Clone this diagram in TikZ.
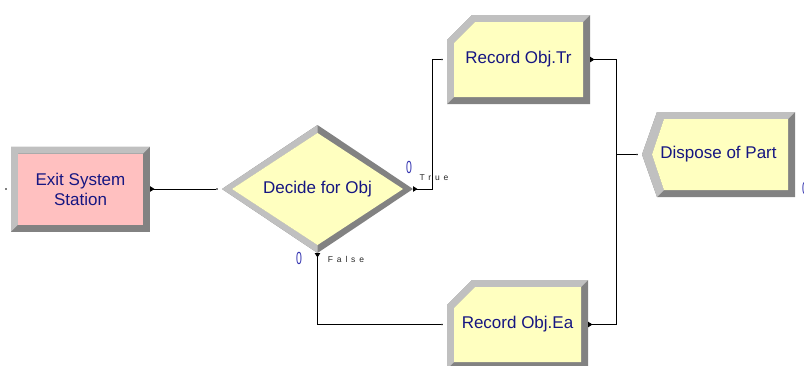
\documentclass[tikz,border=0pt]{standalone}
\usepackage{fontspec}
\setmainfont{Liberation Sans}
\newfontfamily\branchfont[LetterSpace=45]{Liberation Sans}
\usetikzlibrary{positioning, arrows.meta}

\definecolor{navytext}{RGB}{22,22,130}
\definecolor{cntblue}{RGB}{50,50,175}
\definecolor{bevlight}{RGB}{192,192,192}
\definecolor{bevdark}{RGB}{130,130,130}
\definecolor{pinkfill}{RGB}{255,192,192}
\definecolor{yellowfill}{RGB}{255,255,192}

\begin{document}
\begin{tikzpicture}[
    x = 1pt, y = -1pt,
    module/.style = {
      rectangle, inner sep = 0pt, outer sep = 0pt,
      align = center, text = navytext,
      font = \fontsize{17}{20}\selectfont
    },
    squarebox/.style = {
      module, path picture = {
        \coordinate (sw) at (path picture bounding box.south west);
        \coordinate (ne) at (path picture bounding box.north east);
        \coordinate (nw) at (sw |- ne);
        \fill[bevdark] (sw) rectangle (ne);
        \fill[bevlight] (sw) -- (nw) -- (ne) -- ([shift={(-7pt,-7pt)}]ne)
          -- ([shift={(7pt,-7pt)}]nw) -- ([shift={(7pt,7pt)}]sw) -- cycle;
        \fill[#1] ([shift={(7pt,7pt)}]sw) rectangle ([shift={(-7pt,-7pt)}]ne);
      }
    },
    decidebox/.style = {
      module, path picture = {
        \coordinate (n) at (path picture bounding box.north);
        \coordinate (s) at (path picture bounding box.south);
        \coordinate (e) at (path picture bounding box.east);
        \coordinate (w) at (path picture bounding box.west);
        \fill[bevdark] (w) -- (n) -- (e) -- (s) -- cycle;
        \fill[bevlight] (n) -- (w) -- (s) -- ([yshift=8pt]s)
          -- ([xshift=10pt]w) -- ([yshift=-8pt]n) -- cycle;
        \fill[yellowfill] ([xshift=10pt]w) -- ([yshift=-8pt]n)
          -- ([xshift=-10pt]e) -- ([yshift=8pt]s) -- cycle;
      }
    },
    recordbox/.style = {
      module, path picture = {
        \coordinate (sw) at (path picture bounding box.south west);
        \coordinate (ne) at (path picture bounding box.north east);
        \coordinate (nw) at (sw |- ne);
        \coordinate (se) at (ne |- sw);
        \fill[bevdark] ([yshift=-25pt]nw) -- ([xshift=25pt]nw) -- (ne) -- (se) -- (sw) -- cycle;
        \fill[bevlight] (sw) -- ([yshift=-25pt]nw) -- ([xshift=25pt]nw) -- (ne)
          -- ([shift={(-7pt,-7pt)}]ne) -- ([shift={(28pt,-7pt)}]nw)
          -- ([shift={(7pt,-28pt)}]nw) -- ([shift={(7pt,7pt)}]sw) -- cycle;
        \fill[yellowfill] ([shift={(7pt,-28pt)}]nw) -- ([shift={(28pt,-7pt)}]nw)
          -- ([shift={(-7pt,-7pt)}]ne) -- ([shift={(-7pt,7pt)}]se)
          -- ([shift={(7pt,7pt)}]sw) -- cycle;
      }
    },
    disposebox/.style = {
      module, path picture = {
        \coordinate (sw) at (path picture bounding box.south west);
        \coordinate (ne) at (path picture bounding box.north east);
        \coordinate (w) at (path picture bounding box.west);
        \coordinate (nw) at (sw |- ne);
        \coordinate (se) at (ne |- sw);
        \fill[bevdark] (w) -- ([xshift=15pt]nw) -- (ne) -- (se) -- ([xshift=15pt]sw) -- cycle;
        \fill[bevlight] ([xshift=15pt]sw) -- (w) -- ([xshift=15pt]nw) -- (ne)
          -- ([shift={(-7pt,-7pt)}]ne) -- ([shift={(22pt,-7pt)}]nw)
          -- ([xshift=10pt]w) -- ([shift={(22pt,7pt)}]sw) -- cycle;
        \fill[yellowfill] ([xshift=10pt]w) -- ([shift={(22pt,-7pt)}]nw)
          -- ([shift={(-7pt,-7pt)}]ne) -- ([shift={(-7pt,7pt)}]se)
          -- ([shift={(22pt,7pt)}]sw) -- cycle;
      }
    },
    entrydot/.style = {circle, fill = black, inner sep = 0pt, minimum size = 1.6pt},
    cntlabel/.style = {text = cntblue, inner sep = 0pt, font = \fontsize{17.5}{18}\selectfont},
    branchlabel/.style = {text = black!85, inner sep = 0pt, font = \branchfont\fontsize{8.5}{10}\selectfont},
    conn/.style = {line width = 0.9pt, arrows = {Triangle[reversed, length=4.5pt, width=5.5pt]-}}
  ]

  \useasboundingbox (0,0) rectangle (804,365);

  % Modules
  \node[squarebox = pinkfill, minimum width = 139pt, minimum height = 85pt] (exit) at (80.5,189) {Exit System\\Station};
  \node[decidebox, minimum width = 191pt, minimum height = 128pt] (dec) at (317.5,189) {Decide for Obj};
  \node[recordbox, minimum width = 143pt, minimum height = 89pt] (tr) at (518.5,59.5) {Record Obj.Tr};
  \node[recordbox, minimum width = 141pt, minimum height = 89pt] (ea) at (517.5,324.5) {Record Obj.Ea};
  \node[disposebox, minimum width = 153pt, minimum height = 85pt] (disp) at (718.5,154.5) {Dispose of Part};

  % Entry points
  \node[entrydot, left = 4pt of exit] (exitin) {};
  \node[entrydot, left = 4pt of dec]  (decin)  {};
  \node[entrydot, left = 4pt of tr]   (trin)   {};
  \node[entrydot, left = 4pt of ea]   (eain)   {};
  \node[entrydot, left = 4pt of disp] (dispin) {};

  % Counters and branch labels
  \node[cntlabel] (truecnt)  at (409,167) {\scalebox{0.6}[1]{0}};
  \node[cntlabel] (falsecnt) at (299,258) {\scalebox{0.6}[1]{0}};
  \node[cntlabel] (dispcnt)  at (805,188) {\scalebox{0.6}[1]{0}};
  \node[branchlabel] (truelbl)  at (434,178)   {True};
  \node[branchlabel] (falselbl) at (346,259.5) {False};

  % Connections
  \draw[conn] (exit.east) -- (decin);
  \draw[conn] (dec.east)  -- ++(19,0) |- (trin);
  \draw[conn] (dec.south) |- (eain);
  \draw[conn] (tr.east)   -- ++(26,0) |- (dispin);
  \draw[conn] (ea.east)   -- ++(28,0) |- (dispin);

\end{tikzpicture}
\end{document}
